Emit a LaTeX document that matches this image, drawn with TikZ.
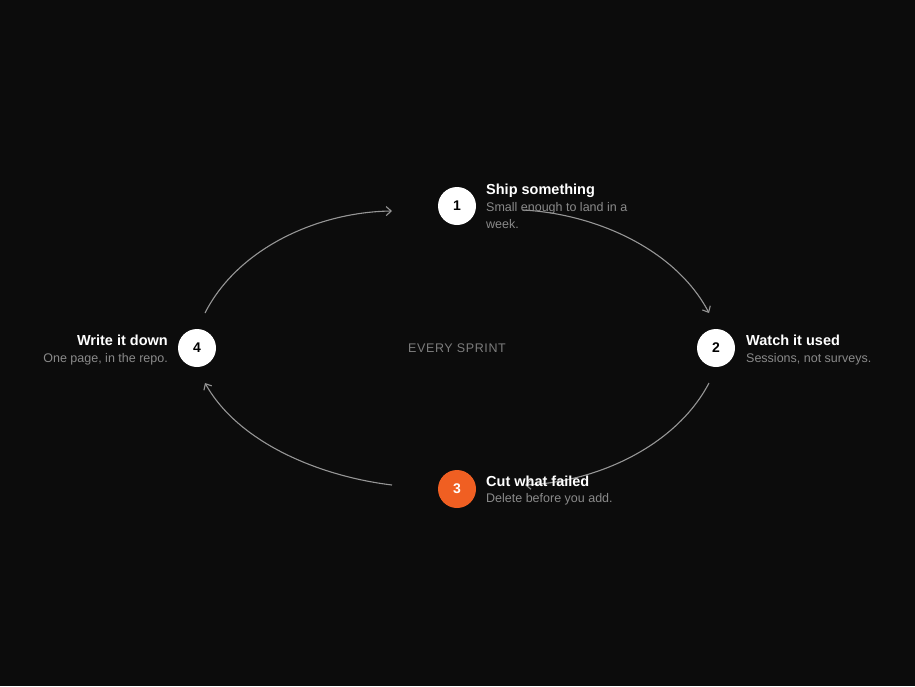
\documentclass[tikz,border=0pt]{standalone}
\usepackage{fontspec}
\setmainfont{Liberation Sans}
\usetikzlibrary{arrows.meta}
\definecolor{bg}{HTML}{0C0C0C}
\definecolor{arc}{HTML}{969696}
\definecolor{sub}{HTML}{8A8A8A}
\definecolor{mid}{HTML}{7C7C7C}
\definecolor{accent}{HTML}{F05F22}
\tikzset{
  stepcircle/.style={circle, fill=white, minimum size=38pt, inner sep=0pt,
    font=\fontsize{14}{14}\selectfont\bfseries, text=black},
  titletext/.style={inner sep=0pt, text=white, font=\fontsize{14.5}{17}\selectfont\bfseries},
  subtext/.style={inner sep=0pt, text=sub, font=\fontsize{12.5}{17}\selectfont},
  cyclearc/.style={draw=arc, line width=1.1pt, -{Straight Barb[length=5pt,width=9pt]}}
}
\begin{document}
\begin{tikzpicture}[x=1pt,y=-1pt]
\fill[bg] (0,0) rectangle (915,686);
\useasboundingbox (0,0) rectangle (915,686);

% arc end points
\coordinate (a4s) at (205,313);
\coordinate (a1e) at (392,211);
\coordinate (a1s) at (523,210);
\coordinate (a2e) at (709,313);
\coordinate (a2s) at (709,383);
\coordinate (a3e) at (525,485);
\coordinate (a3s) at (392,485);
\coordinate (a4e) at (205,383);

\draw[cyclearc] (a4s) .. controls (238,248) and (318,212) .. (a1e);
\draw[cyclearc] (a1s) .. controls (597,214) and (676,250) .. (a2e);
\draw[cyclearc] (a2s) .. controls (676,446) and (597,482) .. (a3e);
\draw[cyclearc] (a3s) .. controls (318,476) and (238,442) .. (a4e);

% nodes
\node[stepcircle] (n1) at (457,206) {1};
\node[stepcircle] (n2) at (716,348) {2};
\node[stepcircle, fill=accent, text=white] (n3) at (457,489) {3};
\node[stepcircle] (n4) at (197,348) {4};

% texts
\node[titletext, anchor=base west] (t1) at (486,194) {Ship something};
\node[subtext, anchor=base west] (s1a) at (486,211) {Small enough to land in a};
\node[subtext, anchor=base west] (s1b) at (486,228) {week.};

\node[titletext, anchor=base west] (t2) at (746,345) {Watch it used};
\node[subtext, anchor=base west] (s2) at (746,362) {Sessions, not surveys.};

\node[titletext, anchor=base west] (t3) at (486,486) {Cut what failed};
\node[subtext, anchor=base west] (s3) at (486,502) {Delete before you add.};

\node[titletext, anchor=base east] (t4) at (168,345) {Write it down};
\node[subtext, anchor=base east] (s4) at (168,362) {One page, in the repo.};

\node[inner sep=0pt, text=mid, font=\fontsize{12.5}{12.5}\selectfont\addfontfeature{LetterSpace=5}] (ctr) at (457,348) {EVERY SPRINT};
\end{tikzpicture}
\end{document}
